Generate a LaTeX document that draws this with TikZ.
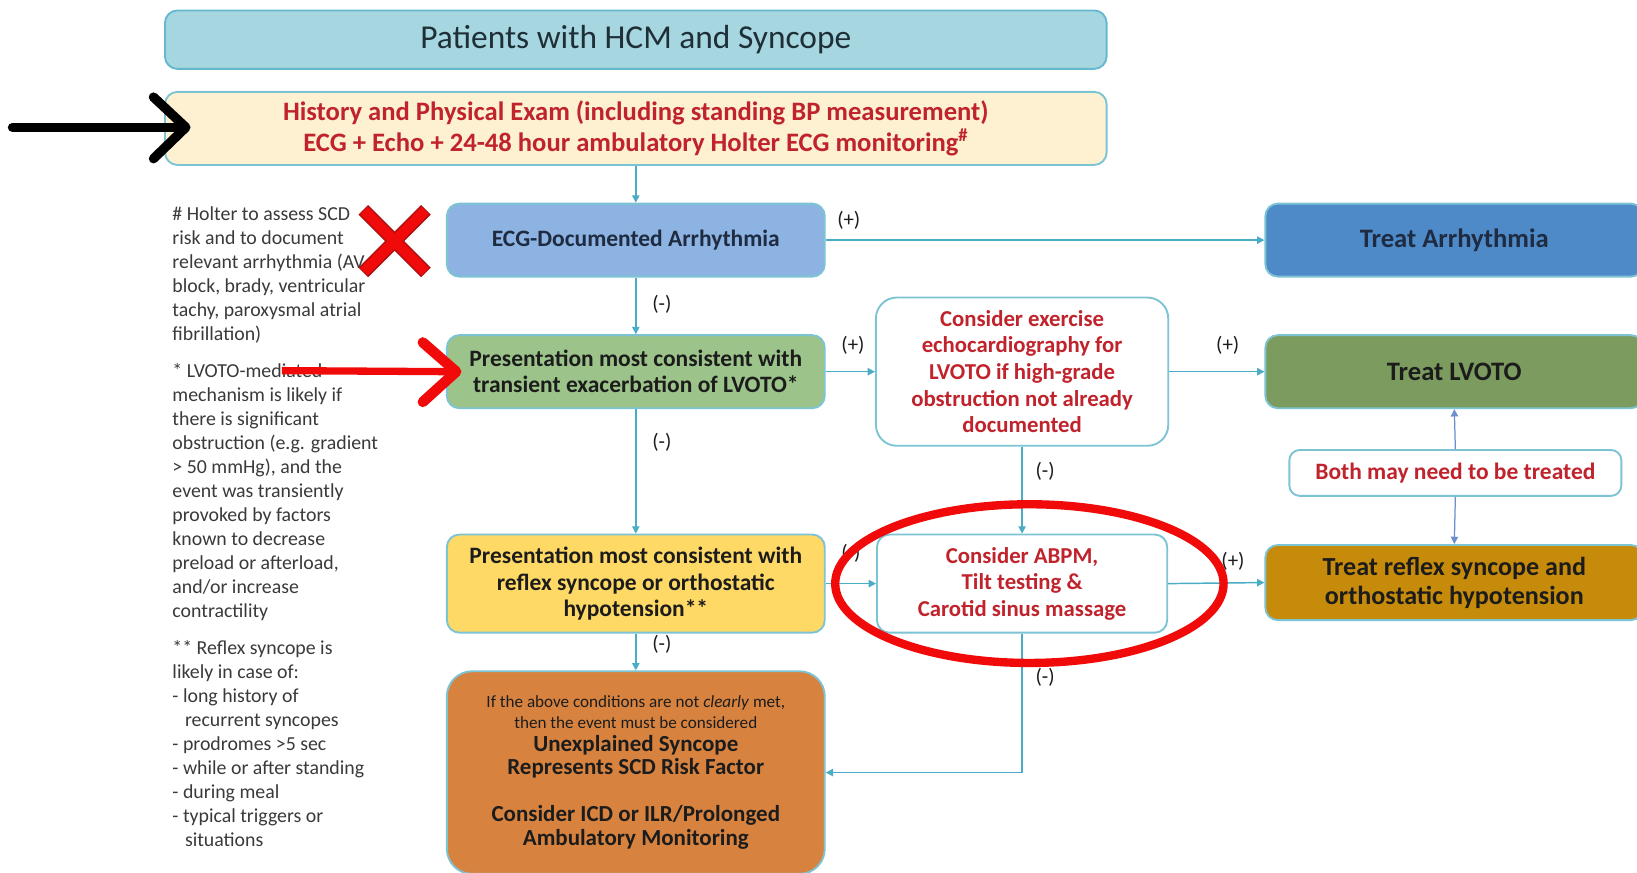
\documentclass[tikz,border=0pt]{standalone}
\usepackage{fontspec}
\setmainfont{Carlito}
\usetikzlibrary{arrows.meta}

\definecolor{conn}{HTML}{4BACC6}
\definecolor{boxline}{HTML}{7CC4D4}
\definecolor{titlefill}{HTML}{A6D6DF}
\definecolor{titletxt}{HTML}{1F2F38}
\definecolor{histfill}{HTML}{FDF1D2}
\definecolor{redtxt}{HTML}{C0232C}
\definecolor{ecgfill}{HTML}{8DB3E2}
\definecolor{tarrfill}{HTML}{4E8AC8}
\definecolor{greenfill}{HTML}{9CC48A}
\definecolor{lvotofill}{HTML}{7B9C5E}
\definecolor{reflexfill}{HTML}{FFD966}
\definecolor{treflfill}{HTML}{C68B0B}
\definecolor{orangefill}{HTML}{D7833F}
\definecolor{darktxt}{HTML}{1C1C1C}
\definecolor{navytxt}{HTML}{1E2B40}
\definecolor{notetxt}{HTML}{3A3A3A}
\definecolor{markred}{HTML}{F00A0A}
\definecolor{xedge}{HTML}{B01010}
\definecolor{bluearrow}{HTML}{4A72C0}

\tikzset{
  box/.style={draw=boxline, line width=1.8pt, rounded corners=12pt, inner sep=0pt,
    align=center, text=darktxt},
  mainbox/.style={box, minimum width=362pt, minimum height=70pt,
    font=\bfseries\fontsize{22.5}{25}\selectfont},
  treatbox/.style={box, minimum width=362pt, minimum height=70pt,
    font=\bfseries\fontsize{25.5}{28}\selectfont},
  testbox/.style={box, fill=white, text=redtxt,
    font=\bfseries\fontsize{21.8}{25.5}\selectfont},
  flow/.style={draw=conn, line width=1.4pt, -{Triangle[length=7pt,width=7pt]}},
  bothflow/.style={draw=bluearrow!80, line width=1.2pt, -{Triangle[length=7pt,width=7pt]}},
  sign/.style={font=\fontsize{20}{22}\selectfont, text=darktxt, inner sep=0pt},
  note/.style={anchor=north west, align=left, inner sep=0pt,
    font=\fontsize{19}{23}\selectfont, text=notetxt},
  marker/.style={line width=9pt, line cap=round, line join=round}
}

\newcommand{\smallline}{\mdseries\fontsize{16.4}{19}\selectfont}
\newcommand{\bigline}{\bfseries\fontsize{22}{22}\selectfont}

\begin{document}
\begin{tikzpicture}[x=1pt,y=-1pt]
\clip (0,0) rectangle (1568,836);
\fill[white] (0,0) rectangle (1568,836);

% --- header boxes
\node[box, fill=titlefill, draw=conn!85, minimum width=902pt, minimum height=56pt,
  font=\fontsize{32}{36}\selectfont, text=titletxt] (title) at (609,38)
  {Patients with HCM and Syncope};
\node[box, fill=histfill, minimum width=902pt, minimum height=70pt, text=redtxt,
  font=\bfseries\fontsize{25.5}{29}\selectfont] (hist) at (609,123)
  {History and Physical Exam (including standing BP measurement)\\
   ECG + Echo + 24-48 hour ambulatory Holter ECG monitoring\textsuperscript{\#}};

% --- left column
\node[mainbox, fill=ecgfill, text=navytxt] (ecg) at (609,230) {ECG-Documented Arrhythmia};
\node[mainbox, fill=greenfill] (lvoto) at (609,356)
  {Presentation most consistent with\\ transient exacerbation of LVOTO*};
\node[mainbox, fill=reflexfill, minimum height=94pt] (reflex) at (609,559)
  {Presentation most consistent with\\ reflex syncope or orthostatic\\ hypotension**};
\node[box, fill=orangefill, rounded corners=24pt, minimum width=362pt, minimum height=194pt,
  text=darktxt, font=\smallline] (unexp) at (609,740)
  {\smallline If the above conditions are not \textit{clearly} met,\\[1pt]
   \smallline then the event must be considered\\[3pt]
   \bigline Unexplained Syncope\\[3pt]
   \bigline Represents SCD Risk Factor\\[26pt]
   \bigline Consider ICD or ILR/Prolonged\\[3pt]
   \bigline Ambulatory Monitoring};

% --- middle column
\node[testbox, rounded corners=20pt, minimum width=280pt, minimum height=142pt] (exer) at (979,356)
  {Consider exercise\\ echocardiography for\\ LVOTO if high-grade\\ obstruction not already\\ documented};
\node[testbox, minimum width=278pt, minimum height=94pt] (abpm) at (979,559)
  {Consider ABPM,\\ Tilt testing \&\\ Carotid sinus massage};

% --- right column
\node[treatbox, fill=tarrfill, text=navytxt] (tarr) at (1393,230) {Treat Arrhythmia};
\node[treatbox, fill=lvotofill] (tlvoto) at (1393,356) {Treat LVOTO};
\node[box, fill=white, text=redtxt, rounded corners=10pt, minimum width=318pt, minimum height=44pt,
  font=\bfseries\fontsize{22.5}{24}\selectfont] (both) at (1394,453) {Both may need to be treated};
\node[treatbox, fill=treflfill, minimum height=72pt, font=\bfseries\fontsize{25}{28}\selectfont]
  (trefl) at (1393,558) {Treat reflex syncope and\\ orthostatic hypotension};

% --- connectors
\draw[flow] (hist.south) -- (ecg.north);
\draw[flow] (ecg.east) -- (tarr.west);
\draw[flow] (ecg.south) -- (lvoto.north);
\draw[flow] (lvoto.east) -- (exer.west);
\draw[flow] (exer.east) -- (tlvoto.west);
\draw[flow] (lvoto.south) -- (reflex.north);
\draw[flow] (exer.south) -- (abpm.north);
\draw[flow] (reflex.east) -- (abpm.west);
\draw[flow] (abpm.east) -- (trefl.west);
\draw[flow] (reflex.south) -- (unexp.north);
\draw[flow] (abpm.south) |- (unexp.east);
\draw[bothflow] (both.north) -- (tlvoto.south);
\draw[bothflow] (both.south) -- (trefl.north);

% --- branch signs
\node[sign] (s1) at (813,211) {(+)};
\node[sign] (s2) at (634,291) {(-)};
\node[sign] (s3) at (817,331) {(+)};
\node[sign] (s4) at (1176,331) {(+)};
\node[sign] (s5) at (634,424) {(-)};
\node[sign] (s6) at (1001,451) {(-)};
\node[sign] (s7) at (815,530) {(-)};
\node[sign] (s8) at (1181,538) {(+)};
\node[sign] (s9) at (634,617) {(-)};
\node[sign] (s10) at (1001,649) {(-)};

% --- footnotes
\node[note] (n1) at (165,198)
  {\# Holter to assess SCD\\ risk and to document\\ relevant arrhythmia (AV\\
   block, brady, ventricular\\ tachy, paroxysmal atrial\\ fibrillation)};
\node[note] (n2) at (165,348)
  {* LVOTO-mediated\\ mechanism is likely if\\ there is significant\\
   obstruction (e.g. gradient\\ > 50 mmHg), and the\\ event was transiently\\
   provoked by factors\\ known to decrease\\ preload or afterload,\\
   and/or increase\\ contractility};
\node[note] (n3) at (165,613)
  {** Reflex syncope is\\ likely in case of:\\
   - long history of\\ \hspace*{12pt}recurrent syncopes\\
   - prodromes >5 sec\\ - while or after standing\\ - during meal\\
   - typical triggers or\\ \hspace*{12pt}situations};

% --- hand-drawn marks
\coordinate (bstart) at (12,122);
\coordinate (btip) at (178,122);
\draw[line width=9pt, line cap=round] (bstart) -- ([xshift=-4pt]btip);
\draw[marker] ([shift={(-31,-29)}]btip) -- (btip) -- ([shift={(-31,30)}]btip);

\coordinate (rstart) at (270,355);
\coordinate (rtip) at (437,356);
\draw[markred, line width=7pt] (rstart) -- ([xshift=-5pt]rtip);
\draw[markred, marker, line width=10pt] ([shift={(-32,-28)}]rtip) -- (rtip) -- ([shift={(-32,29)}]rtip);

\coordinate (xc) at (378,231);
\foreach \d in {1,-1}{
  \draw[xedge, line width=13pt] ([shift={(-30,-30*\d)}]xc) -- ([shift={(30,30*\d)}]xc);
}
\foreach \d in {1,-1}{
  \draw[markred, line width=10pt, shorten <=1pt, shorten >=1pt]
    ([shift={(-30,-30*\d)}]xc) -- ([shift={(30,30*\d)}]xc);
}

\draw[markred, line width=8pt] (986,559) ellipse [x radius=186, y radius=76];
\end{tikzpicture}
\end{document}
